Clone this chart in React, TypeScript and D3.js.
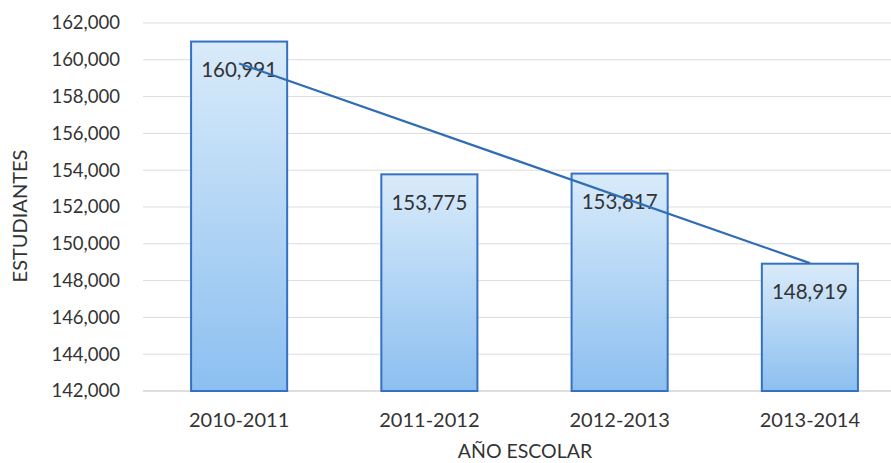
import React from "react";
import * as d3 from "d3";

const categories = ["2010-2011", "2011-2012", "2012-2013", "2013-2014"];
const students = [160991, 153775, 153817, 148919];
const yTicks = [142000, 144000, 146000, 148000, 150000, 152000, 154000, 156000, 158000, 160000, 162000];
const yTitle = "ESTUDIANTES";
const xTitle = "AÑO ESCOLAR";

const W = 891;
const H = 463;
const FONT = "Lato, 'Open Sans', sans-serif";

export default function App() {
  const x = d3.scaleBand<string>().domain(categories).range([144, 905]).paddingInner(0.495).paddingOuter(0.2475);
  const y = d3.scaleLinear().domain([142000, 162000]).range([391, 23]);
  const fmt = d3.format(",");

  // linear trendline (least squares)
  const n = students.length;
  const xs = students.map((_, i) => i);
  const mx = d3.mean(xs) as number;
  const my = d3.mean(students) as number;
  const slope = d3.sum(xs, (xi, i) => (xi - mx) * (students[i] - my)) / d3.sum(xs, (xi) => (xi - mx) ** 2);
  const intercept = my - slope * mx;
  const trend: [number, number][] = [0, n - 1].map((i) => [
    (x(categories[i]) as number) + x.bandwidth() / 2,
    y(intercept + slope * i),
  ]);
  const line = d3.line();

  return (
    <svg width={W} height={H} style={{ position: "absolute", left: 0, top: 0, background: "#fff" }}>
      <defs>
        <linearGradient id="barGrad" x1="0" y1="0" x2="0" y2="1">
          <stop offset="0%" stopColor="#d9ebfa" />
          <stop offset="100%" stopColor="#8cbff0" />
        </linearGradient>
      </defs>
      {yTicks.map((t) => (
        <g key={t}>
          <line x1={143} x2={W} y1={y(t)} y2={y(t)} stroke={t === 142000 ? "#bdbdbd" : "#dcdcdc"} strokeWidth={1} />
          <text x={120} y={y(t)} dy="0.35em" textAnchor="end" fontSize={18.5} fontFamily={FONT} fill="#333">
            {fmt(t)}
          </text>
        </g>
      ))}
      {categories.map((c, i) => {
        const bx = x(c) as number;
        const by = y(students[i]);
        return (
          <g key={c}>
            <rect x={bx} y={by} width={x.bandwidth()} height={y(142000) - by} fill="url(#barGrad)" stroke="#3470c4" strokeWidth={2} />
            <text x={bx + x.bandwidth() / 2} y={by + 28} dy="0.35em" textAnchor="middle" fontSize={20.5} fontFamily={FONT} fill="#333">
              {fmt(students[i])}
            </text>
            <text x={bx + x.bandwidth() / 2} y={420} dy="0.35em" textAnchor="middle" fontSize={20} fontFamily={FONT} fill="#333">
              {c}
            </text>
          </g>
        );
      })}
      <path d={line(trend) as string} fill="none" stroke="#2f6db5" strokeWidth={2.2} />
      <text x={525} y={451} dy="0.35em" textAnchor="middle" fontSize={19.5} fontFamily={FONT} fill="#333">
        {xTitle}
      </text>
      <text transform={`translate(20,${(y(142000) + y(162000)) / 2 + 9}) rotate(-90)`} dy="0.35em" textAnchor="middle" fontSize={20} fontFamily={FONT} fill="#333">
        {yTitle}
      </text>
    </svg>
  );
}
